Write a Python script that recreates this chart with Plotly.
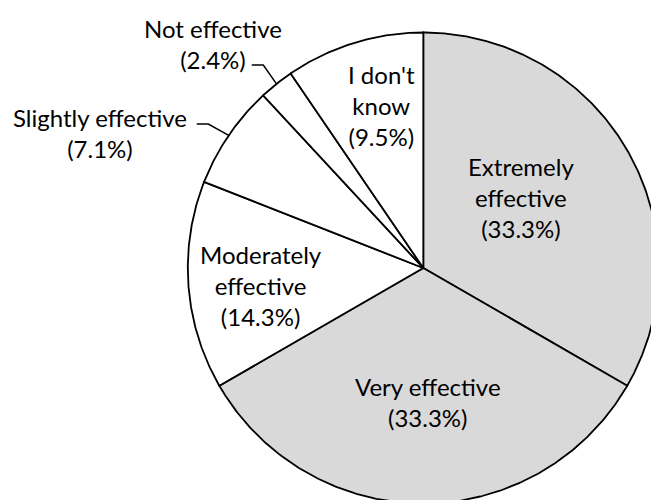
import math
import plotly.graph_objects as go

# Survey responses, clockwise from 12 o'clock
categories = ["Extremely effective", "Very effective", "Moderately effective",
              "Slightly effective", "Not effective", "I don't know"]
responses = [14, 14, 6, 3, 1, 4]
label_lines = [["Extremely", "effective"], ["Very effective"], ["Moderately", "effective"],
               ["Slightly effective"], ["Not effective"], ["I don't", "know"]]
slice_colors = ["#d9d9d9", "#d9d9d9", "#ffffff", "#ffffff", "#ffffff", "#ffffff"]

# Figure geometry in pixels: pie centre and radius
W, H = 651, 500
CX, CY, R = 423.3, 268.0, 235.5

# Label block centres (pixels) and leader-line elbows for the small slices
label_pos = [(521, 197), (428, 402), (261, 285), (100, 133), (212.5, 44), (381, 105)]
leaders = {3: [(196.7, 124), (208.3, 124)], 4: [(251.7, 65), (263.3, 65)]}

FONT = dict(family="Lato, Calibri, sans-serif", size=24, color="#000000")


def px_to_unit(px, py):
    return (px - CX) / R, (CY - py) / R


total = sum(responses)
fig = go.Figure()

start = 0.0
mid_angles = []
for cat, val, col in zip(categories, responses, slice_colors):
    sweep = val / total * 360.0
    a0, a1 = start, start + sweep
    n = max(int(sweep * 2), 6)
    xs, ys = [0.0], [0.0]
    for i in range(n + 1):
        t = math.radians(90.0 - (a0 + (a1 - a0) * i / n))
        xs.append(math.cos(t))
        ys.append(math.sin(t))
    xs.append(0.0)
    ys.append(0.0)
    fig.add_trace(go.Scatter(
        x=xs, y=ys, mode="lines", fill="toself", fillcolor=col,
        line=dict(color="#000000", width=1.8),
        hoverinfo="text", hoveron="fills",
        text=f"{cat}: {val} ({val / total * 100:.1f}%)",
        showlegend=False,
    ))
    mid_angles.append(math.radians(90.0 - (a0 + a1) / 2))
    start = a1

# Leader lines from the outside labels to the slice mid-point on the rim
for idx, pts in leaders.items():
    xs, ys = [], []
    for p in pts:
        ux, uy = px_to_unit(*p)
        xs.append(ux)
        ys.append(uy)
    xs.append(math.cos(mid_angles[idx]))
    ys.append(math.sin(mid_angles[idx]))
    fig.add_trace(go.Scatter(x=xs, y=ys, mode="lines",
                             line=dict(color="#000000", width=1.5),
                             hoverinfo="skip", showlegend=False))

# Category labels with percentages
for lines, val, (px, py) in zip(label_lines, responses, label_pos):
    text = "<br>".join(lines + [f"({val / total * 100:.1f}%)"])
    ux, uy = px_to_unit(px, py)
    fig.add_annotation(x=ux, y=uy, text=text, showarrow=False,
                       xanchor="center", yanchor="middle", align="center",
                       font=FONT)

x0, y1 = px_to_unit(0, 0)
x1, y0 = px_to_unit(W, H)
fig.update_layout(
    width=W, height=H,
    margin=dict(l=0, r=0, t=0, b=0),
    paper_bgcolor="#ffffff", plot_bgcolor="#ffffff",
    xaxis=dict(range=[x0, x1], visible=False, fixedrange=True),
    yaxis=dict(range=[y0, y1], visible=False, fixedrange=True),
    showlegend=False,
)

fig.write_html("out.html")
